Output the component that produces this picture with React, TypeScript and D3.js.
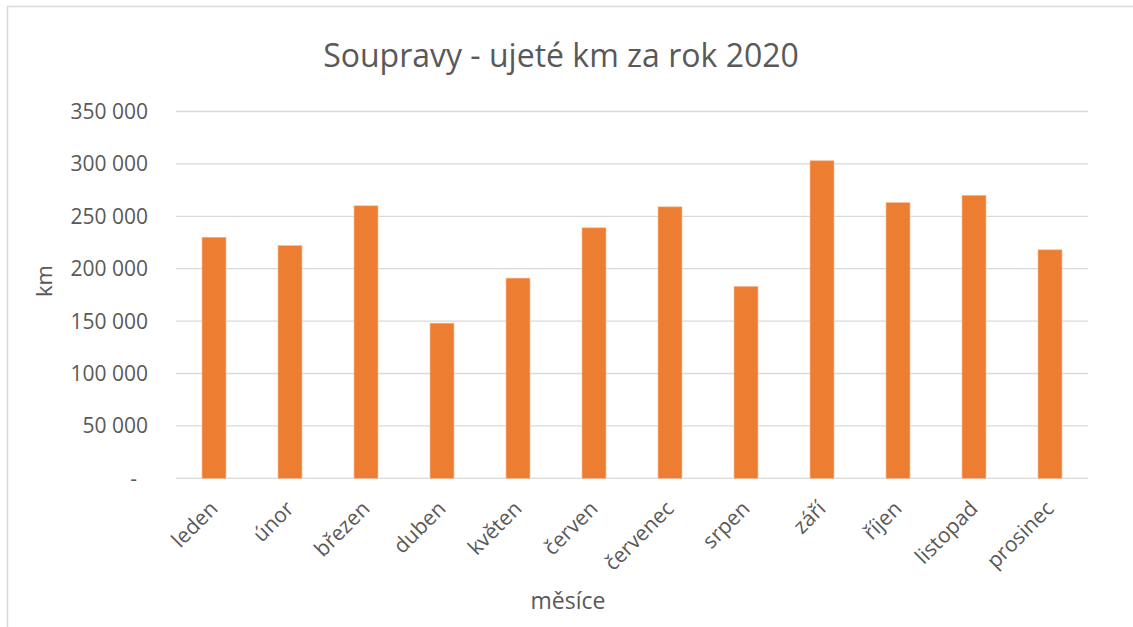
import React, { useEffect, useRef } from "react";
import { select, scaleBand, scaleLinear } from "d3";

const months = [
  "leden",
  "únor",
  "březen",
  "duben",
  "květen",
  "červen",
  "červenec",
  "srpen",
  "září",
  "říjen",
  "listopad",
  "prosinec",
];
const kmValues = [
  230000, 222000, 260000, 148000, 191000, 239000, 259000, 183000, 303000,
  263000, 270000, 218000,
];
const yTicks = [0, 50000, 100000, 150000, 200000, 250000, 300000, 350000];

const title = "Soupravy - ujeté km za rok 2020";
const yTitle = "km";
const xTitle = "měsíce";

const fmt = (v: number) =>
  v === 0 ? "-" : String(v).replace(/\B(?=(\d{3})+(?!\d))/g, " ");

const App = () => {
  const ref = useRef<SVGSVGElement>(null);

  useEffect(() => {
    const width = 1133;
    const height = 627;
    const marginLeft = 176;
    const marginRight = 45;
    const marginTop = 111.5;
    const plotBottom = 478.3;
    const font = "'Open Sans', sans-serif";
    const textColor = "#595959";

    const svg = select(ref.current);
    svg.selectAll("*").remove();

    // frame of the chart area (only top and left edges show)
    svg
      .append("rect")
      .attr("x", 7.5)
      .attr("y", 6.5)
      .attr("width", width + 20)
      .attr("height", height + 20)
      .attr("fill", "#fff")
      .attr("stroke", "#d9d9d9")
      .attr("stroke-width", 1.5);

    const x = scaleBand()
      .domain(months)
      .range([marginLeft, width - marginRight])
      .paddingInner(0.685)
      .paddingOuter(0.3425);

    const y = scaleLinear()
      .domain([0, 350000])
      .range([plotBottom, marginTop]);

    // gridlines
    svg
      .append("g")
      .selectAll("line")
      .data(yTicks)
      .join("line")
      .attr("x1", marginLeft)
      .attr("x2", width - marginRight)
      .attr("y1", (d) => y(d))
      .attr("y2", (d) => y(d))
      .attr("stroke", "#d9d9d9")
      .attr("stroke-width", 1.3);

    // y tick labels
    svg
      .append("g")
      .selectAll("text")
      .data(yTicks)
      .join("text")
      .attr("x", (d) => (d === 0 ? 137 : 148))
      .attr("y", (d) => y(d))
      .attr("dy", "0.36em")
      .attr("text-anchor", "end")
      .attr("font-family", font)
      .attr("font-size", 21)
      .attr("fill", textColor)
      .text((d) => fmt(d));

    // bars
    svg
      .append("g")
      .selectAll("rect")
      .data(kmValues)
      .join("rect")
      .attr("x", (d, i) => x(months[i]) as number)
      .attr("y", (d) => y(d))
      .attr("width", x.bandwidth())
      .attr("height", (d) => y(0) - y(d))
      .attr("fill", "#ed7d31")
      .attr("stroke", "#f6b58c")
      .attr("stroke-width", 0.6);

    // x labels, rotated
    svg
      .append("g")
      .selectAll("text")
      .data(months)
      .join("text")
      .attr("transform", (d) => {
        const cx = (x(d) as number) + x.bandwidth() / 2 + 5;
        return `translate(${cx},510) rotate(-45)`;
      })
      .attr("text-anchor", "end")
      .attr("font-family", font)
      .attr("font-size", 21)
      .attr("fill", textColor)
      .text((d) => d);

    // titles
    svg
      .append("text")
      .attr("x", 561)
      .attr("y", 67)
      .attr("text-anchor", "middle")
      .attr("font-family", font)
      .attr("font-size", 32)
      .attr("fill", textColor)
      .text(title);

    svg
      .append("text")
      .attr("transform", "translate(52,281) rotate(-90)")
      .attr("text-anchor", "middle")
      .attr("font-family", font)
      .attr("font-size", 22)
      .attr("fill", textColor)
      .text(yTitle);

    svg
      .append("text")
      .attr("x", 568)
      .attr("y", 609)
      .attr("text-anchor", "middle")
      .attr("font-family", font)
      .attr("font-size", 23)
      .attr("fill", textColor)
      .text(xTitle);
  }, []);

  return (
    <svg
      ref={ref}
      width={1133}
      height={627}
      style={{ position: "absolute", left: 0, top: 0, background: "#fff" }}
    />
  );
};

export default App;
